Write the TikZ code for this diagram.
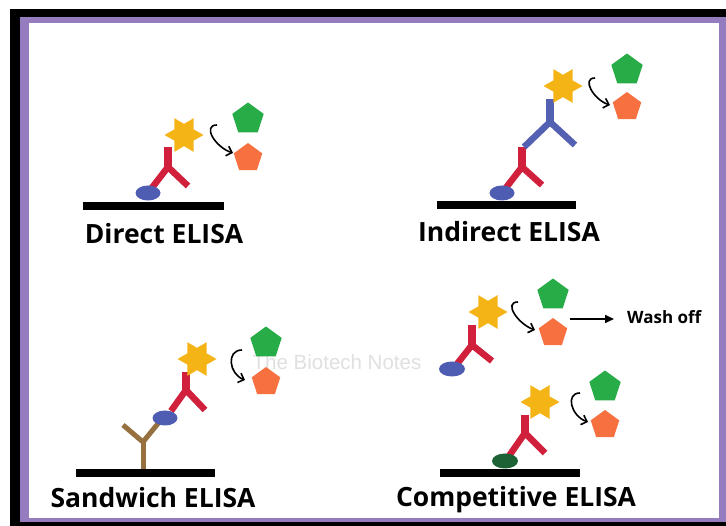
\documentclass[tikz,border=0pt]{standalone}
\usepackage{fontspec}
\setmainfont{Open Sans}
\newfontfamily\markfont{Liberation Sans}
\usetikzlibrary{shapes.geometric,arrows.meta}

\definecolor{framepurple}{RGB}{148,124,190}
\definecolor{abred}{RGB}{208,32,60}
\definecolor{abblue}{RGB}{84,96,178}
\definecolor{abbrown}{RGB}{150,112,62}
\definecolor{agblue}{RGB}{78,92,178}
\definecolor{agdark}{RGB}{28,98,52}
\definecolor{enzyellow}{RGB}{244,180,22}
\definecolor{subgreen}{RGB}{40,172,72}
\definecolor{prodorange}{RGB}{246,112,64}

\begin{document}
\begin{tikzpicture}[x=1pt, y=-1pt]
        \pgfdeclarelayer{edgelayer}
        \pgfsetlayers{edgelayer,main}
        \tikzstyle{antigen}=[shape=ellipse, fill=agblue, draw=none, inner sep=0pt, minimum width=25pt, minimum height=15pt]
        \tikzstyle{enzyme}=[shape=star, star points=6, star point ratio=1.75, shape border rotate=30, fill=enzyellow, draw=none, inner sep=0pt, minimum size=39pt]
        \tikzstyle{substrate}=[regular polygon, regular polygon sides=5, fill=subgreen, draw=none, inner sep=0pt, minimum size=33pt]
        \tikzstyle{product}=[regular polygon, regular polygon sides=5, fill=prodorange, draw=none, inner sep=0pt, minimum size=30pt]
        \tikzstyle{plate}=[line width=8.5pt, black]
        \tikzstyle{stem}=[line width=8pt]
        \tikzstyle{arm}=[line width=6.5pt, line join=miter]
        \tikzstyle{turn}=[-{Straight Barb[length=5pt,width=10pt]}, line width=1.6pt, black]
        \tikzstyle{title}=[font=\bfseries\fontsize{26.5}{28}\selectfont, inner sep=0pt]

        % frame
        \begin{pgfonlayer}{edgelayer}
            \fill[white] (0,0) rectangle (726,526);
            \fill[black] (10,9) rectangle (726,526);
            \fill[framepurple] (20,17) rectangle (726,522);
            \fill[white] (29,23) rectangle (719,518);
        \end{pgfonlayer}

        \node[font=\markfont\fontsize{20.5}{22}\selectfont, text=black!12, inner sep=0pt] (mark) at (337,362) {The Biotech Notes};

        % direct
        \coordinate (d-l) at (83,206);
        \coordinate (d-r) at (224,206);
        \coordinate (d-top) at (168,147);
        \coordinate (d-j) at (168,167);
        \coordinate (d-lf) at (151,189);
        \coordinate (d-rf) at (188,186);
        \coordinate (d-a) at (217,125);
        \coordinate (d-b) at (233,153);
        \node[style=antigen] (d-ag) at (148,193) {};
        \node[style=enzyme] (d-en) at (184,135) {};
        \node[style=substrate] (d-s) at (248,119) {};
        \node[style=product] (d-p) at (248,158) {};
        \node[style=title] (d-txt) at (164,234) {Direct ELISA};
        \begin{pgfonlayer}{edgelayer}
            \draw[style=plate] (d-l) to (d-r);
            \draw[style=stem, abred] (d-top) to ([yshift=-4pt]d-j);
            \draw[style=arm, abred] (d-lf) to (d-j) to (d-rf);
        \end{pgfonlayer}
        \draw[style=turn] (d-a) .. controls +(-15,0) and +(-18,-6) .. (d-b);

        % indirect
        \coordinate (i-l) at (437,205);
        \coordinate (i-r) at (576,205);
        \coordinate (i-top) at (522,147);
        \coordinate (i-j) at (522,167);
        \coordinate (i-lf) at (505,189);
        \coordinate (i-rf) at (542,185);
        \coordinate (i-top2) at (550,99);
        \coordinate (i-j2) at (550,122);
        \coordinate (i-lf2) at (524,147);
        \coordinate (i-rf2) at (575,145);
        \coordinate (i-a) at (595,78);
        \coordinate (i-b) at (610,105);
        \node[style=antigen] (i-ag) at (502,193) {};
        \node[style=enzyme] (i-en) at (563,86) {};
        \node[style=substrate] (i-s) at (627,70) {};
        \node[style=product] (i-p) at (627,107) {};
        \node[style=title] (i-txt) at (509,232) {Indirect ELISA};
        \begin{pgfonlayer}{edgelayer}
            \draw[style=plate] (i-l) to (i-r);
            \draw[style=stem, abred] (i-top) to ([yshift=-4pt]i-j);
            \draw[style=arm, abred] (i-lf) to (i-j) to (i-rf);
            \draw[style=stem, abblue] (i-top2) to ([yshift=-4pt]i-j2);
            \draw[style=arm, abblue] (i-lf2) to (i-j2) to (i-rf2);
        \end{pgfonlayer}
        \draw[style=turn] (i-a) .. controls +(-14,0) and +(-16,-5) .. (i-b);

        % sandwich
        \coordinate (s-l) at (76,473);
        \coordinate (s-r) at (215,473);
        \coordinate (s-bot) at (143,469);
        \coordinate (s-j0) at (143,442);
        \coordinate (s-lf0) at (123,425);
        \coordinate (s-rf0) at (160,421);
        \coordinate (s-top) at (186,372);
        \coordinate (s-j) at (186,390);
        \coordinate (s-lf) at (171,411);
        \coordinate (s-rf) at (205,410);
        \coordinate (s-a) at (242,350);
        \coordinate (s-b) at (245,380);
        \node[style=antigen] (s-ag) at (165,418) {};
        \node[style=enzyme] (s-en) at (197,359) {};
        \node[style=substrate] (s-s) at (266,343) {};
        \node[style=product] (s-p) at (266,382) {};
        \node[style=title] (s-txt) at (153,498) {Sandwich ELISA};
        \begin{pgfonlayer}{edgelayer}
            \draw[style=plate] (s-l) to (s-r);
            \draw[line width=5pt, abbrown] (s-bot) to ([yshift=3pt]s-j0);
            \draw[line width=5pt, line join=miter, abbrown] (s-lf0) to (s-j0) to (s-rf0);
            \draw[style=stem, abred] (s-top) to ([yshift=-4pt]s-j);
            \draw[style=arm, abred] (s-lf) to (s-j) to (s-rf);
        \end{pgfonlayer}
        \draw[style=turn] (s-a) .. controls +(-16,0) and +(-16,-6) .. (s-b);

        % competitive, free antigen
        \coordinate (c-top) at (472,325);
        \coordinate (c-j) at (472,345);
        \coordinate (c-lf) at (457,364);
        \coordinate (c-rf) at (492,361);
        \coordinate (c-a) at (518,302);
        \coordinate (c-b) at (535,330);
        \coordinate (c-w1) at (570,319);
        \coordinate (c-w2) at (614,319);
        \node[style=antigen, minimum width=26pt] (c-ag) at (452,369) {};
        \node[style=enzyme] (c-en) at (488,312) {};
        \node[style=substrate] (c-s) at (553,295) {};
        \node[style=product] (c-p) at (553,333) {};
        \node[font=\bfseries\fontsize{17}{19}\selectfont, inner sep=0pt, anchor=west] (c-wash) at (627,317) {Wash off};
        \begin{pgfonlayer}{edgelayer}
            \draw[style=stem, abred] (c-top) to ([yshift=-4pt]c-j);
            \draw[style=arm, abred] (c-lf) to (c-j) to (c-rf);
        \end{pgfonlayer}
        \draw[style=turn] (c-a) .. controls +(-15,0) and +(-17,-6) .. (c-b);
        \draw[-{Triangle[length=9pt,width=8pt]}, line width=1.6pt] (c-w1) to (c-w2);

        % competitive, bound antigen
        \coordinate (k-l) at (440,473);
        \coordinate (k-r) at (580,473);
        \coordinate (k-top) at (525,415);
        \coordinate (k-j) at (525,433);
        \coordinate (k-lf) at (509,456);
        \coordinate (k-rf) at (545,453);
        \coordinate (k-a) at (580,393);
        \coordinate (k-b) at (588,422);
        \node[style=antigen, fill=agdark, minimum width=26pt] (k-ag) at (505,461) {};
        \node[style=enzyme] (k-en) at (540,402) {};
        \node[style=substrate] (k-s) at (605,387) {};
        \node[style=product] (k-p) at (605,425) {};
        \node[style=title] (k-txt) at (516,500) {Competitive ELISA};
        \begin{pgfonlayer}{edgelayer}
            \draw[style=plate] (k-l) to (k-r);
            \draw[style=stem, abred] (k-top) to ([yshift=-4pt]k-j);
            \draw[style=arm, abred] (k-lf) to (k-j) to (k-rf);
        \end{pgfonlayer}
        \draw[style=turn] (k-a) .. controls +(-15,0) and +(-17,-6) .. (k-b);
    \end{tikzpicture}
\end{document}
